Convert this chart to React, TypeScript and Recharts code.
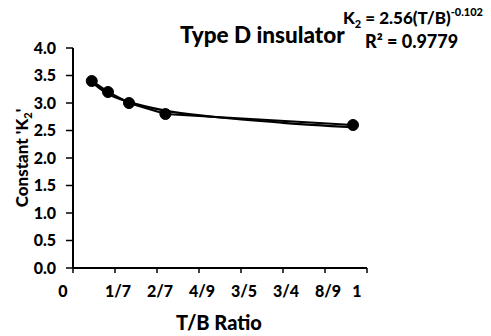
import React from 'react';
import { ComposedChart, Line, XAxis, YAxis } from 'recharts';

// measured T/B ratios and K2 constants
const tbRatio = [0.067, 0.125, 0.2, 0.33, 1.0];
const k2Values = [3.4, 3.2, 3.0, 2.8, 2.6];

// power trendline
const trendX = [0.067, 0.1, 0.125, 0.2, 0.33, 0.5, 0.75, 1.0];
const trendY = [3.38, 3.25, 3.17, 3.02, 2.86, 2.75, 2.64, 2.56];

const xTicks = [0, 0.15, 0.3, 0.45, 0.6, 0.75, 0.9, 1.05];
const xTickLabels = ['0', '1/7', '2/7', '4/9', '3/5', '3/4', '8/9', '1'];
const yTicks = [0, 0.5, 1, 1.5, 2, 2.5, 3, 3.5, 4];

const FONT = 'Lato, "Open Sans", sans-serif';

const measured = tbRatio.map((x, i) => ({ x, k2: k2Values[i] }));
const trend = trendX.map((x, i) => ({ x, fit: trendY[i] }));

const XTick = (props: any) => {
  const { x, y, payload } = props;
  const idx = xTicks.indexOf(payload.value);
  const label = idx >= 0 ? xTickLabels[idx] : '';
  // whole numbers sit left, like excel's padded fraction format
  const shift = label.includes('/') ? 3 : -10;
  return (
    <text x={x + shift} y={y + 22} textAnchor="middle" fontFamily={FONT} fontWeight={900} fontSize={16} fill="#000">
      {label}
    </text>
  );
};

const YTitle = () => (
  <text transform="translate(28,158) rotate(-90)" textAnchor="middle" fontFamily={FONT} fontWeight={900} fontSize={17} fill="#000">
    <tspan>Constant 'K</tspan>
    <tspan fontSize={11} dy={4}>2</tspan>
    <tspan dy={-4}>'</tspan>
  </text>
);

const XTitle = () => (
  <text x={219} y={330} textAnchor="middle" fontFamily={FONT} fontWeight={900} fontSize={20} fill="#000">
    T/B Ratio
  </text>
);

const App: React.FC = () => {
  return (
    <div style={{ position: 'absolute', left: 0, top: 0, width: 491, height: 336, background: '#fff' }}>
      <ComposedChart
        width={491}
        height={336}
        margin={{ top: 48, right: 124, left: 13, bottom: 38 }}
      >
        <XAxis
          type="number"
          dataKey="x"
          domain={[0, 1.05]}
          ticks={xTicks}
          tick={<XTick />}
          axisLine={{ stroke: '#000', strokeWidth: 2 }}
          tickLine={{ stroke: '#000', strokeWidth: 1.5 }}
          tickSize={5}
          height={30}
          allowDataOverflow
          label={{ content: () => <XTitle /> }}
        />
        <YAxis
          type="number"
          domain={[0, 4]}
          ticks={yTicks}
          tickFormatter={(v: number) => v.toFixed(1)}
          tick={{ fontFamily: FONT, fontWeight: 900, fontSize: 16, fill: '#000' }}
          axisLine={{ stroke: '#000', strokeWidth: 2 }}
          tickLine={{ stroke: '#000', strokeWidth: 1.5 }}
          tickSize={7}
          tickMargin={10}
          width={60}
          label={{ content: () => <YTitle /> }}
        />
        <Line
          data={trend}
          dataKey="fit"
          type="monotone"
          stroke="#000"
          strokeWidth={2.25}
          dot={false}
          isAnimationActive={false}
        />
        <Line
          data={measured}
          dataKey="k2"
          type="linear"
          stroke="#000"
          strokeWidth={2.25}
          dot={{ r: 5.5, fill: '#000', stroke: '#000', strokeWidth: 1 }}
          isAnimationActive={false}
        />
      </ComposedChart>
      <svg width={491} height={336} style={{ position: 'absolute', left: 0, top: 0, pointerEvents: 'none' }}>
        <text x={180} y={43} fontFamily={FONT} fontWeight={900} fontSize={22.5} fill="#000">Type D insulator</text>
        <text x={343} y={24} fontFamily={FONT} fontWeight={900} fontSize={17} fill="#000">
          <tspan>K</tspan>
          <tspan fontSize={11} dy={4}>2</tspan>
          <tspan dy={-4}> = 2.56(T/B)</tspan>
          <tspan fontSize={11} dy={-8}>-0.102</tspan>
        </text>
        <text x={365} y={48} fontFamily={FONT} fontWeight={900} fontSize={18} fill="#000">R² = 0.9779</text>
      </svg>
    </div>
  );
};

export default App;
